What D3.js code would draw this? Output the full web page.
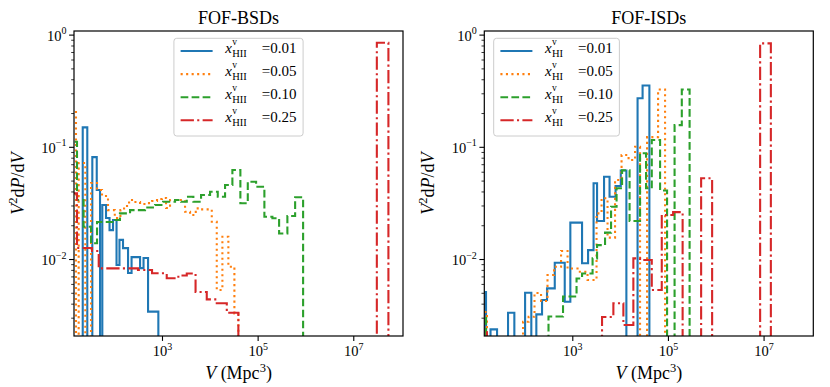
<!DOCTYPE html>
<html>
<head>
<meta charset="utf-8">
<script src="https://cdnjs.cloudflare.com/ajax/libs/d3/7.8.5/d3.min.js"></script>
<style>
  body { margin: 0; background: #fff; }
  svg text { font-family: 'Liberation Serif', 'Times New Roman', serif; fill: #000; }
</style>
</head>
<body>
<svg id="chart" width="830" height="387"></svg>
<script>
'use strict';

// axis ranges
const vDomain = [14.45, 1.096e8];
const pDomain = [0.00206, 1.077];
const xTicks = [1e3, 1e5, 1e7];
const yTicks = [1e-2, 1e-1, 1];

const fractions = ['0.01', '0.05', '0.10', '0.25'];
const colors = ['#1f77b4', '#ff7f0e', '#2ca02c', '#d62728'];
const dashes = [null, '2.1,3.4', '7.7,3.3', '13.3,3.3,2.1,3.3'];

// FOF-BSDs : bin edges (Mpc^3) and V^2 dP/dV of each bin
const bsdEdges01 = [22.0, 27.4, 34.9, 43.2, 50.6, 56.5, 67.5, 80.0, 94.6, 112, 129, 153, 195, 231, 348, 411, 511, 839];
const bsdVals01 = [0.149, 0, 0.081, 0.0412, 0, 0.0303, 0.0232, 0.0181, 0.0223, 0.00885, 0.0148, 0.0125, 0.0075, 0.0104, 0.0083, 0.0102, 0.0034];

const bsdEdges05 = [13.8, 15.9, 18.1, 24.9, 32.8, 43.8, 55.7, 74.3, 103, 135, 161, 205, 260, 348, 464, 619, 787, 1000, 1216, 1472, 1875, 3034, 3864, 5082, 5957, 10990, 13970, 18320, 24430, 32660, 39550];
const bsdVals05 = [0.213, 0, 0.0717, 0, 0.0476, 0.0412, 0.0364, 0.0273, 0.0232, 0.0273, 0.0297, 0.0336, 0.0322, 0.0309, 0.0315, 0.0329, 0.0343, 0.0350, 0.0285, 0.0336, 0.0336, 0.0264, 0.0247, 0.0283, 0.0277, 0.0215, 0.0053, 0.0158, 0.00854, 0.00328];

const bsdEdges10 = [13.1, 16.7, 22.9, 32.8, 43.8, 104, 132, 215, 442, 716, 1052, 1875, 2506, 3296, 4529, 6561, 10120, 14660, 20840, 29650, 43550, 62230, 92900, 138400, 203700, 281200, 418800, 608100, 893100];
const bsdVals10 = [0.111, 0.0336, 0.0194, 0.0138, 0.0214, 0.0223, 0.0255, 0.0273, 0.0288, 0.0303, 0.0324, 0.0336, 0.0324, 0.0359, 0.0324, 0.0372, 0.0398, 0.0359, 0.0457, 0.0621, 0.0314, 0.0489, 0.0441, 0.0238, 0.0231, 0.0169, 0.0242, 0.0355];

const bsdEdges25 = [13.1, 16.7, 34.4, 47.5, 315, 619, 1256, 2198, 3296, 5035, 8630, 13970, 22650, 39550, 3.11e7, 5.43e7];
const bsdVals25 = [0.0385, 0.01253, 0.01178, 0.00826, 0.00798, 0.00746, 0.00673, 0.00713, 0.00743, 0.00508, 0.00437, 0.00403, 0.00332, 0, 0.847];

// FOF-ISDs
const isdEdges01 = [13.6, 15.7, 19.5, 26.7, 45.3, 61.4, 103, 139, 177, 233, 296, 430, 695, 910, 1600, 2138, 2786, 3296, 4613, 6012, 8035, 10330, 13520, 23170, 29510, 40930];
const isdVals01 = [0.00508, 0, 0.00236, 0, 0.00332, 0, 0.00501, 0, 0.00321, 0.00431, 0.00548, 0.00927, 0.00416, 0.0211, 0.00916, 0.0120, 0.0473, 0.0218, 0.0541, 0.0359, 0.0448, 0.0615, 0, 0.271, 0.352];

const isdEdges05 = [12.9, 16.4, 93.3, 122, 162, 222, 303, 415, 582, 796, 1288, 2084, 3214, 4093, 5458, 7834, 10720, 15030, 20560, 26120, 36640, 62230, 87100];
const isdVals05 = [0.00337, 0, 0.00276, 0.00306, 0.00498, 0.00423, 0.00720, 0.00854, 0.0118, 0.00822, 0.00771, 0.00650, 0.0255, 0.0348, 0.0155, 0.0506, 0.0845, 0.0762, 0.100, 0, 0.122, 0.324];

const isdEdges10 = [12.9, 15.7, 318, 640, 1227, 1600, 2655, 3296, 4842, 6471, 8433, 10990, 15780, 26120, 34910, 45920, 68550, 95940, 137700, 195000, 283800];
const isdVals10 = [0.00298, 0, 0.00307, 0.00463, 0.00670, 0.00743, 0.01014, 0.0133, 0.0172, 0.0292, 0.0427, 0.0618, 0.0218, 0.0875, 0.0427, 0.115, 0.0408, 0, 0.156, 0.324];

const isdEdges25 = [12.9, 16.4, 4188, 7228, 11700, 18920, 26120, 45920, 74300, 128200, 202800, 494300, 839500, 8.47e6, 1.42e7];
const isdVals25 = [0.00228, 0, 0.00304, 0.00403, 0.00258, 0.01014, 0.0098, 0.0053, 0.0247, 0.0262, 0, 0.0524, 0, 0.836];

const panelW = 329, panelH = 305, plotTop = 31;

const panels = [
  { left: 74, title: 'FOF-BSDs', sub: 'HII', loc: 'center',
    series: [[bsdEdges01, bsdVals01], [bsdEdges05, bsdVals05], [bsdEdges10, bsdVals10], [bsdEdges25, bsdVals25]] },
  { left: 484.3, title: 'FOF-ISDs', sub: 'HI', loc: 'left',
    series: [[isdEdges01, isdVals01], [isdEdges05, isdVals05], [isdEdges10, isdVals10], [isdEdges25, isdVals25]] }
];

const svg = d3.select('#chart');

// histogram outline: up at first edge, across each bin, down at the last edge
function stepPoints(edges, vals) {
  const pts = [[edges[0], 0]];
  vals.forEach((v, i) => pts.push([edges[i], v], [edges[i + 1], v]));
  pts.push([edges[edges.length - 1], 0]);
  return pts;
}

function powLabel(sel, d) {
  const e = Math.round(Math.log10(d));
  sel.text(null);
  sel.append('tspan').text('10');
  sel.append('tspan').attr('dy', -6.5).style('font-size', '10px').text(String(e).replace('-', '\u2212'));
}

function drawPanel(p, idx) {
  const g = svg.append('g').attr('transform', `translate(${p.left},${plotTop})`);

  const x = d3.scaleLog().domain(vDomain).range([0, panelW]);
  const y = d3.scaleLog().domain(pDomain).range([panelH, 0]);

  g.append('clipPath').attr('id', 'clip' + idx)
    .append('rect').attr('width', panelW).attr('height', panelH);

  // series
  const line = d3.line()
      .x(d => x(d[0]))
      .y(d => d[1] > 0 ? y(d[1]) : panelH + 12);

  const plot = g.append('g').attr('clip-path', `url(#clip${idx})`);
  p.series.forEach(([edges, vals], i) => {
    plot.append('path')
        .attr('d', line(stepPoints(edges, vals)))
        .attr('fill', 'none')
        .attr('stroke', colors[i])
        .attr('stroke-width', 2.1)
        .attr('stroke-dasharray', dashes[i]);
  });

  // x axis
  const xg = g.append('g')
      .attr('transform', `translate(0,${panelH})`)
      .call(d3.axisBottom(x).tickValues(xTicks).tickSize(4.9).tickFormat(''));
  xg.select('.domain').remove();
  xg.selectAll('.tick line').attr('stroke', '#000').attr('stroke-width', 1.1);
  xg.selectAll('.tick text')
      .attr('y', 20).attr('dy', null)
      .style('font-size', '14.5px')
      .each(function(d) { powLabel(d3.select(this), d); });

  // y axis, minor ticks first
  const minor = [];
  [-3, -2, -1].forEach(k => d3.range(2, 10).forEach(m => {
    const v = m * Math.pow(10, k);
    if (v > pDomain[0] && v < pDomain[1]) minor.push(v);
  }));
  const ym = g.append('g').call(d3.axisLeft(y).tickValues(minor).tickSize(2.8).tickFormat(''));
  ym.select('.domain').remove();
  ym.selectAll('.tick line').attr('stroke', '#000').attr('stroke-width', 0.8);

  const yg = g.append('g').call(d3.axisLeft(y).tickValues(yTicks).tickSize(4.9).tickFormat(''));
  yg.select('.domain').remove();
  yg.selectAll('.tick line').attr('stroke', '#000').attr('stroke-width', 1.1);
  yg.selectAll('.tick text')
      .attr('x', -7.5).attr('dy', null).attr('y', 5.5)
      .attr('text-anchor', 'end')
      .style('font-size', '14.5px')
      .each(function(d) { powLabel(d3.select(this), d); });

  // frame
  g.append('rect')
      .attr('width', panelW).attr('height', panelH)
      .attr('fill', 'none').attr('stroke', '#000').attr('stroke-width', 1.2);

  // title and axis labels
  g.append('text')
      .attr('x', panelW / 2).attr('y', -7)
      .attr('text-anchor', 'middle')
      .style('font-size', '18px')
      .text(p.title);

  const xl = g.append('text')
      .attr('x', panelW / 2).attr('y', 348)
      .attr('text-anchor', 'middle')
      .style('font-size', '18px');
  xl.append('tspan').style('font-style', 'italic').text('V');
  xl.append('tspan').text(' (Mpc');
  xl.append('tspan').attr('dy', -7).style('font-size', '12.5px').text('3');
  xl.append('tspan').attr('dy', 7).text(')');

  const yl = g.append('text')
      .attr('transform', `translate(-50,${panelH / 2}) rotate(-90)`)
      .attr('text-anchor', 'middle')
      .style('font-size', '18px');
  yl.append('tspan').style('font-style', 'italic').text('V');
  yl.append('tspan').attr('dy', -7).style('font-size', '12.5px').text('2');
  yl.append('tspan').attr('dy', 7).text('d');
  yl.append('tspan').style('font-style', 'italic').text('P');
  yl.append('tspan').text('/d');
  yl.append('tspan').style('font-style', 'italic').text('V');

  // legend
  const lg = g.append('g');
  const box = lg.append('rect');
  let textEnd = 0;
  fractions.forEach((f, i) => {
    const ly = 12.7 + i * 23.1;
    lg.append('line')
        .attr('x1', 6.7).attr('x2', 38.7).attr('y1', ly).attr('y2', ly)
        .attr('stroke', colors[i]).attr('stroke-width', 2.1)
        .attr('stroke-dasharray', dashes[i]);
    const tx = 51.3, ty = ly + 1.7;
    const xs = lg.append('text').attr('x', tx).attr('y', ty)
        .style('font-style', 'italic').style('font-size', '15px').text('x');
    const xEnd = tx + xs.node().getComputedTextLength();
    lg.append('text').attr('x', xEnd + 0.3).attr('y', ty - 7.8)
        .style('font-size', '9.5px').text('v');
    const s = lg.append('text').attr('x', xEnd + 0.3).attr('y', ty + 4)
        .style('font-size', '10.5px').text(p.sub);
    const sEnd = xEnd + 0.3 + s.node().getComputedTextLength();
    const t = lg.append('text').attr('x', sEnd + 15).attr('y', ty)
        .style('font-size', '15px').text('=' + f);
    textEnd = Math.max(textEnd, sEnd + 15 + t.node().getComputedTextLength());
  });
  const bw = textEnd + 6.6;
  box.attr('width', bw).attr('height', 97.7)
      .attr('rx', 2.8)
      .attr('fill', '#fff').attr('fill-opacity', 0.8)
      .attr('stroke', '#cccccc').attr('stroke-width', 1);
  const bx = p.loc === 'center' ? (panelW - bw) / 2 : 9.4;
  lg.attr('transform', `translate(${bx},7.3)`);
}

panels.forEach(drawPanel);
</script>
</body>
</html>
